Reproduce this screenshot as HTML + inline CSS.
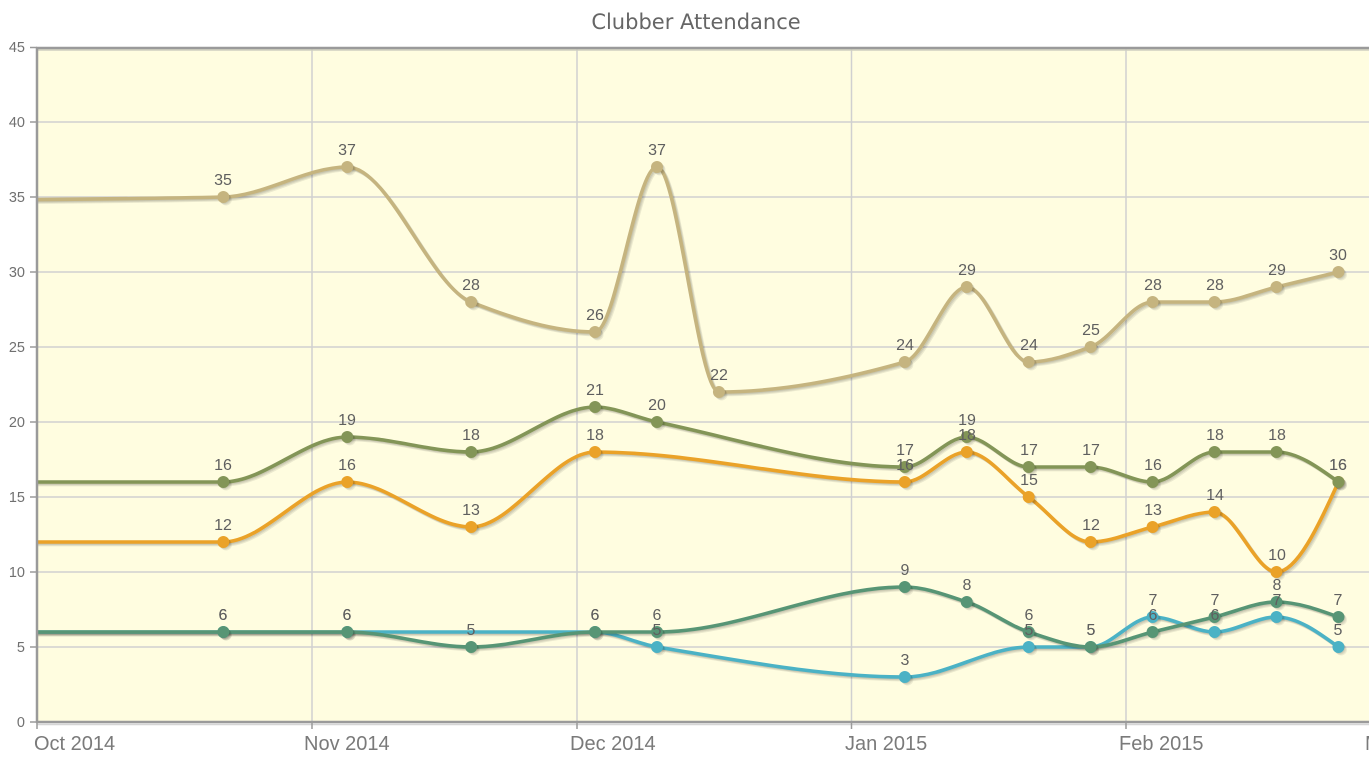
<!DOCTYPE html>
<html>
<head>
<meta charset="utf-8">
<style>
html,body{margin:0;padding:0;background:#fff;}
svg{display:block;}
.pl{font-family:"Liberation Sans",sans-serif;font-size:16px;fill:#5f5f5f;text-anchor:middle;}
.yl{font-family:"Liberation Sans",sans-serif;font-size:14.5px;fill:#707070;text-anchor:end;}
.xl{font-family:"Liberation Sans",sans-serif;font-size:20px;fill:#7a7a7a;}
.tt{font-family:"DejaVu Sans",sans-serif;font-size:21px;fill:#666;text-anchor:middle;}
</style>
</head>
<body>
<svg width="1369" height="762" viewBox="0 0 1369 762" xmlns="http://www.w3.org/2000/svg">
<defs><clipPath id="clip"><rect x="38" y="48" width="1340" height="673"/></clipPath></defs>
<rect width="1369" height="762" fill="#fff"/>
<text class="tt" x="696" y="29">Clubber Attendance</text>
<rect x="37" y="47" width="1340" height="675" fill="#fffde0"/>
<path stroke="#d0d0d0" stroke-width="1.5" fill="none" d="M37 122H1369M37 197H1369M37 272H1369M37 347H1369M37 422H1369M37 497H1369M37 572H1369M37 647H1369M312 47V722M577 47V722M851.5 47V722M1126 47V722"/>
<g id="series" clip-path="url(#clip)"></g>
<path stroke="#cfcfc0" stroke-width="1.5" fill="none" d="M37 50H1369"/>
<path stroke="#d5d5d5" stroke-width="1.5" fill="none" d="M37 724.5H1369"/>
<path stroke="#9a9a9a" stroke-width="2.5" fill="none" d="M36 48H1369M37 47V723M36 722H1369"/>
<path stroke="#9a9a9a" stroke-width="1.5" fill="none" d="M30 47.5H37M30 122H37M30 197H37M30 272H37M30 347H37M30 422H37M30 497H37M30 572H37M30 647H37M30 722H37M37 722V729M312 722V729M577 722V729M851.5 722V729M1126 722V729"/>
<text class="yl"><tspan x="25" y="52">45</tspan><tspan x="25" y="127">40</tspan><tspan x="25" y="202">35</tspan><tspan x="25" y="277">30</tspan><tspan x="25" y="352">25</tspan><tspan x="25" y="427">20</tspan><tspan x="25" y="502">15</tspan><tspan x="25" y="577">10</tspan><tspan x="25" y="652">5</tspan><tspan x="25" y="727">0</tspan></text>
<text class="xl"><tspan x="34" y="750">Oct 2014</tspan><tspan x="304" y="750">Nov 2014</tspan><tspan x="570" y="750">Dec 2014</tspan><tspan x="845" y="750">Jan 2015</tspan><tspan x="1119" y="750">Feb 2015</tspan><tspan x="1365" y="750">Mar 2015</tspan></text>
<text class="pl"><tspan x="223" y="620">6</tspan><tspan x="347" y="620">6</tspan><tspan x="595" y="620">6</tspan><tspan x="657" y="635">5</tspan><tspan x="905" y="665">3</tspan><tspan x="1029" y="635">5</tspan><tspan x="1091" y="635">5</tspan><tspan x="1153" y="605">7</tspan><tspan x="1215" y="620">6</tspan><tspan x="1277" y="605">7</tspan><tspan x="1338" y="635">5</tspan></text>
<text class="pl"><tspan x="223" y="530">12</tspan><tspan x="347" y="470">16</tspan><tspan x="471" y="515">13</tspan><tspan x="595" y="440">18</tspan><tspan x="905" y="470">16</tspan><tspan x="967" y="440">18</tspan><tspan x="1029" y="485">15</tspan><tspan x="1091" y="530">12</tspan><tspan x="1153" y="515">13</tspan><tspan x="1215" y="500">14</tspan><tspan x="1277" y="560">10</tspan><tspan x="1338" y="470">16</tspan></text>
<text class="pl"><tspan x="223" y="185">35</tspan><tspan x="347" y="155">37</tspan><tspan x="471" y="290">28</tspan><tspan x="595" y="320">26</tspan><tspan x="657" y="155">37</tspan><tspan x="719" y="380">22</tspan><tspan x="905" y="350">24</tspan><tspan x="967" y="275">29</tspan><tspan x="1029" y="350">24</tspan><tspan x="1091" y="335">25</tspan><tspan x="1153" y="290">28</tspan><tspan x="1215" y="290">28</tspan><tspan x="1277" y="275">29</tspan><tspan x="1338" y="260">30</tspan></text>
<text class="pl"><tspan x="223" y="620">6</tspan><tspan x="347" y="620">6</tspan><tspan x="471" y="635">5</tspan><tspan x="595" y="620">6</tspan><tspan x="657" y="620">6</tspan><tspan x="905" y="575">9</tspan><tspan x="967" y="590">8</tspan><tspan x="1029" y="620">6</tspan><tspan x="1091" y="635">5</tspan><tspan x="1153" y="620">6</tspan><tspan x="1215" y="605">7</tspan><tspan x="1277" y="590">8</tspan><tspan x="1338" y="605">7</tspan></text>
<text class="pl"><tspan x="223" y="470">16</tspan><tspan x="347" y="425">19</tspan><tspan x="471" y="440">18</tspan><tspan x="595" y="395">21</tspan><tspan x="657" y="410">20</tspan><tspan x="905" y="455">17</tspan><tspan x="967" y="425">19</tspan><tspan x="1029" y="455">17</tspan><tspan x="1091" y="455">17</tspan><tspan x="1153" y="470">16</tspan><tspan x="1215" y="440">18</tspan><tspan x="1277" y="440">18</tspan><tspan x="1338" y="470">16</tspan></text>
</svg>
<script>
(function(){
var X0=37.5,K=8.85,NS="http://www.w3.org/2000/svg";
var series=[
 ["#4bb2c5",[[-7,6],[21,6],[35,6],[63,6],[70,5],[98,3],[112,5],[119,5],[126,7],[133,6],[140,7],[147,5]]],
 ["#eaa228",[[-7,12],[21,12],[35,16],[49,13],[63,18],[98,16],[105,18],[112,15],[119,12],[126,13],[133,14],[140,10],[147,16]]],
 ["#c5b47f",[[-7,34.8],[21,35],[35,37],[49,28],[63,26],[70,37],[77,22],[98,24],[105,29],[112,24],[119,25],[126,28],[133,28],[140,29],[147,30]]],
 ["#579575",[[-7,6],[21,6],[35,6],[49,5],[63,6],[70,6],[98,9],[105,8],[112,6],[119,5],[126,6],[133,7],[140,8],[147,7]]],
 ["#839557",[[-7,16],[21,16],[35,19],[49,18],[63,21],[70,20],[98,17],[105,19],[112,17],[119,17],[126,16],[133,18],[140,18],[147,16]]]
];
var g=document.getElementById("series");
function el(n,a){var e=document.createElementNS(NS,n);for(var k in a)e.setAttribute(k,a[k]);g.appendChild(e);}
function pathD(p){
 var n=p.length,s=[],m=[],i;
 for(i=0;i<n-1;i++)s[i]=(p[i+1][1]-p[i][1])/(p[i+1][0]-p[i][0]);
 for(i=1;i<n-1;i++)m[i]=(s[i-1]*s[i]<=0)?0:2/(1/s[i-1]+1/s[i]);
 m[0]=1.5*s[0]-m[1]/2;m[n-1]=1.5*s[n-2]-m[n-2]/2;
 var d="M"+p[0][0]+" "+p[0][1];
 for(i=0;i<n-1;i++){
  var dx=(p[i+1][0]-p[i][0])/3;
  d+=" C"+(p[i][0]+dx)+" "+(p[i][1]+m[i]*dx)+" "+(p[i+1][0]-dx)+" "+(p[i+1][1]-m[i+1]*dx)+" "+p[i+1][0]+" "+p[i+1][1];
 }
 return d;
}
series.forEach(function(S){
 var pts=S[1].map(function(q){return [X0+q[0]*K,722-15*q[1]];});
 var d=pathD(pts),k;
 for(k=3;k>=1;k--)el("path",{d:d,fill:"none",stroke:"rgba(0,0,0,0.08)","stroke-width":"3.4",transform:"translate("+(0.9*k)+","+(0.9*k)+")"});
 el("path",{d:d,fill:"none",stroke:S[0],"stroke-width":"3.6","stroke-linejoin":"round","stroke-linecap":"round"});
 pts.forEach(function(p){
  for(k=3;k>=1;k--)el("circle",{cx:p[0]+0.9*k,cy:p[1]+0.9*k,r:"5.8",fill:"rgba(0,0,0,0.07)"});
  el("circle",{cx:p[0],cy:p[1],r:"6",fill:S[0]});
 });
});
})();
</script>
</body>
</html>
